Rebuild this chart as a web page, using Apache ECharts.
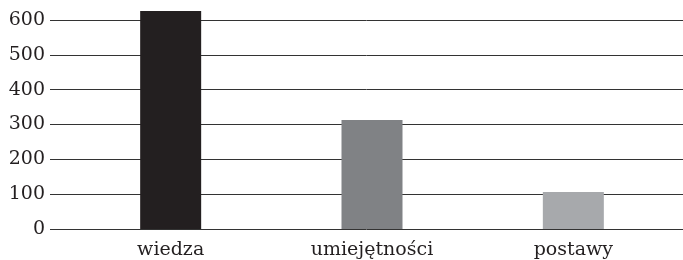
<!DOCTYPE html>
<html>
<head>
<meta charset="utf-8">
<script src="https://cdn.jsdelivr.net/npm/echarts@6/dist/echarts.min.js"></script>
<style>
html,body{margin:0;padding:0;background:#fff;}
#c{width:683px;height:260px;}
</style>
</head>
<body>
<div id="c"></div>
<script>
var categories = ['wiedza', 'umiejętności', 'postawy'];
var values = [626, 313, 106];
var barColors = ['#231f20', '#808285', '#a7a9ac'];
var yMin = 0, yMax = 600, yStep = 100;

var chart = echarts.init(document.getElementById('c'), null, {renderer: 'canvas'});
var font = 'DejaVu Serif';
chart.setOption({
  animation: false,
  backgroundColor: '#ffffff',
  grid: [
    {left: 50, right: 0, top: 20, bottom: 31},
    {left: 70, right: 9, top: 20, bottom: 31}
  ],
  xAxis: [
    {gridIndex: 0, type: 'category', data: categories, show: false},
    {gridIndex: 1, type: 'category', data: categories,
     axisLine: {show: false}, axisTick: {show: false},
     axisLabel: {color: '#231f20', fontFamily: font, fontSize: 19, margin: 12}}
  ],
  yAxis: [
    {gridIndex: 0, type: 'value', min: yMin, max: yMax, interval: yStep,
     axisLine: {show: false}, axisTick: {show: false},
     axisLabel: {color: '#231f20', fontFamily: font, fontSize: 19, margin: 5},
     splitLine: {lineStyle: {color: '#333333', width: 1}}},
    {gridIndex: 1, type: 'value', min: yMin, max: yMax, interval: yStep, show: false}
  ],
  series: [{
    type: 'bar',
    xAxisIndex: 1, yAxisIndex: 1,
    barWidth: 61,
    clip: false,
    data: values.map(function (v, i) { return {value: v, itemStyle: {color: barColors[i]}}; })
  }]
});
</script>
</body>
</html>
